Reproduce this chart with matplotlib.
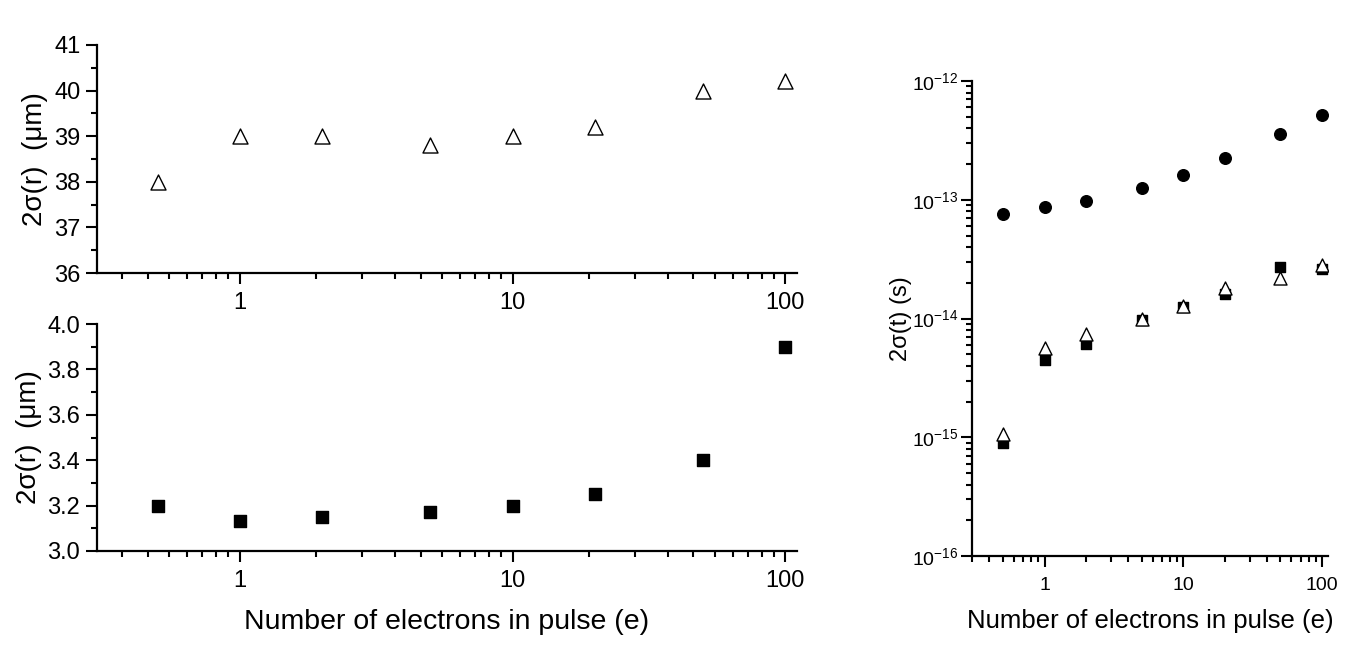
import numpy as np
import matplotlib
matplotlib.use('Agg')
import matplotlib.pyplot as plt
from matplotlib.ticker import FixedLocator, NullFormatter, LogLocator

plt.rcParams['font.family'] = ['Liberation Sans', 'DejaVu Sans']
plt.rcParams['mathtext.fontset'] = 'custom'
plt.rcParams['mathtext.rm'] = 'Liberation Sans'
plt.rcParams['mathtext.it'] = 'Liberation Sans'

# data
electrons = [0.5, 1, 2, 5, 10, 20, 50, 100]
radius_large = [38.0, 39.0, 39.0, 38.8, 39.0, 39.2, 40.0, 40.2]
radius_small = [3.20, 3.13, 3.15, 3.17, 3.20, 3.25, 3.40, 3.90]
duration_circle = [7.6e-14, 8.7e-14, 9.8e-14, 1.26e-13, 1.62e-13, 2.25e-13, 3.6e-13, 5.2e-13]
duration_square = [8.9e-16, 4.5e-15, 6.1e-15, 9.8e-15, 1.25e-14, 1.6e-14, 2.7e-14, 2.6e-14]
duration_triangle = [1.07e-15, 5.7e-15, 7.4e-15, 1.0e-14, 1.28e-14, 1.8e-14, 2.2e-14, 2.8e-14]

xlabel = 'Number of electrons in pulse (e)'

fig = plt.figure(figsize=(13.64, 6.47), dpi=100)
ax1 = fig.add_axes([0.0711, 0.578, 0.513, 0.3525])
ax2 = fig.add_axes([0.0711, 0.1484, 0.513, 0.3508])
ax3 = fig.add_axes([0.7126, 0.1406, 0.261, 0.7342])

# Origin style minor ticks: decade split in 10 linear steps
origin_minor = []
for k in [-1, 0, 1]:
    for i in range(1, 10):
        origin_minor.append(10.0**k * (1 + 0.9 * i))


def style(ax, fs_tick):
    for s in ['top', 'right']:
        ax.spines[s].set_visible(False)
    for s in ['left', 'bottom']:
        ax.spines[s].set_linewidth(1.6)
    ax.tick_params(which='major', direction='out', length=8, width=1.5, labelsize=fs_tick)
    ax.tick_params(which='minor', direction='out', length=4.5, width=1.5)


for ax in (ax1, ax2):
    ax.set_xscale('log')
    ax.set_xlim(0.3, 110)
    ax.xaxis.set_major_locator(FixedLocator([1, 10, 100]))
    ax.set_xticklabels(['1', '10', '100'])
    ax.xaxis.set_minor_locator(FixedLocator(origin_minor))
    ax.xaxis.set_minor_formatter(NullFormatter())
    style(ax, 17)
    ax.tick_params(axis='x', pad=6)
    ax.tick_params(axis='y', pad=4)
    ax.set_ylabel('2σ(r)  (μm)', fontsize=20, labelpad=4)

ax1.scatter(electrons, radius_large, marker='^', s=117, facecolors='white',
            edgecolors='black', linewidths=1.0, zorder=3, clip_on=False)
ax1.set_ylim(36, 41)
ax1.set_yticks([36, 37, 38, 39, 40, 41])
ax1.yaxis.set_minor_locator(FixedLocator(np.arange(36.5, 41, 1.0)))

ax2.scatter(electrons, radius_small, marker='s', s=75, color='black', zorder=3, clip_on=False)
ax2.set_ylim(3.0, 4.0)
ax2.set_yticks([3.0, 3.2, 3.4, 3.6, 3.8, 4.0])
ax2.set_yticklabels(['3.0', '3.2', '3.4', '3.6', '3.8', '4.0'])
ax2.yaxis.set_minor_locator(FixedLocator(np.arange(3.1, 4.0, 0.2)))
ax2.set_xlabel(xlabel, fontsize=20.5, labelpad=12)

# right panel
ax3.set_xscale('log')
ax3.set_yscale('log')
ax3.scatter(electrons, duration_circle, marker='o', s=70, color='black', zorder=3)
ax3.scatter(electrons, duration_square, marker='s', s=45, color='black', zorder=3)
ax3.scatter(electrons, duration_triangle, marker='^', s=88, facecolors='white',
            edgecolors='black', linewidths=1.0, zorder=4)
ax3.set_xlim(0.3, 110)
ax3.set_ylim(1e-16, 1e-12)
ax3.xaxis.set_major_locator(FixedLocator([1, 10, 100]))
ax3.set_xticklabels(['1', '10', '100'])
ax3.xaxis.set_minor_locator(LogLocator(base=10, subs=np.arange(2, 10)))
ax3.xaxis.set_minor_formatter(NullFormatter())
ax3.yaxis.set_major_locator(FixedLocator([1e-16, 1e-15, 1e-14, 1e-13, 1e-12]))
ax3.set_yticklabels(['10$^{-16}$', '10$^{-15}$', '10$^{-14}$', '10$^{-13}$', '10$^{-12}$'])
ax3.yaxis.set_minor_locator(LogLocator(base=10, subs=np.arange(2, 10), numticks=20))
ax3.yaxis.set_minor_formatter(NullFormatter())
style(ax3, 14)
ax3.tick_params(axis='x', labelsize=14, pad=7)
ax3.tick_params(axis='y', labelsize=14, pad=2)
ax3.set_ylabel('2σ(t) (s)', fontsize=17, labelpad=0)
ax3.set_xlabel(xlabel, fontsize=18.5, labelpad=11)

fig.savefig('out.png', dpi=100)
